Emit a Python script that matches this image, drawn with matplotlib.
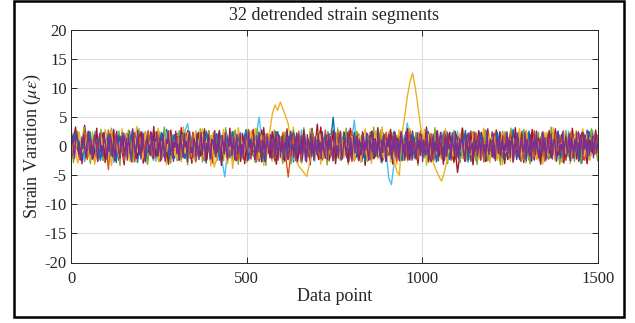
import numpy as np
import matplotlib
matplotlib.use("Agg")
import matplotlib.pyplot as plt
from matplotlib.patches import Rectangle

title = "32 detrended strain segments"
xlabel = "Data point"
ylabel = r"Strain Varation ($\mu\epsilon$)"
xticks = [0, 500, 1000, 1500]
yticks = [-20, -15, -10, -5, 0, 5, 10, 15, 20]

seg_blue_a = [1.2,-0.8,2.1,-1.9,0.4,-2.6,1.7,0.3,-1.1,2.4,-0.6,1.0,-2.2,0.8,-0.3,2.7,-1.5,0.6,-2.0,1.4,
 -0.9,2.2,-1.7,0.1,1.9,-2.8,0.7,-0.4,2.5,-1.3,1.1,-2.4,0.2,1.6,-0.7,-1.8,2.9,-0.5,0.9,-2.1,
 1.5,-1.0,0.3,2.3,-2.5,1.2,-0.2,-1.6,2.0,-0.8,0.5,-2.9,1.8,-0.1,1.3,-1.4,2.6,-2.2,0.6,-0.6,
 2.1,-1.2,0.9,-2.0,1.6,-0.4,2.8,-1.7,0.2,-0.9,1.4,-2.6,0.8,2.2,-1.1,0.5,-2.3,1.9,-0.3,1.0,
 -1.9,2.4,-0.7,0.4,-2.7,1.7,-1.3,2.0,-0.2,0.7,-1.6,3.1,-0.9,0.1,-2.1,1.3,-0.5,2.5,-1.8,0.6,
 -0.4,1.8,-2.4,0.9,1.2,-1.0,2.3,-2.0,0.3,-0.8,1.6,-2.6,2.1,-0.3,0.8,-1.5,2.7,-1.1,0.2,-2.2,
 1.1,-0.6,2.0,-1.4,0.5,-2.5,1.9,-0.1,1.4,-2.1,0.7,-0.9,2.6,-1.7,0.4,-2.8,1.5,-0.4,2.2,-1.0,
 0.6,-1.8,2.5,-0.5,1.0,-2.3,0.3,1.7,-1.2,2.1,-2.7,0.9,-0.2,1.5,-1.9,2.4,-0.8,0.2,-2.0,1.8,
 -1.3,0.8,-2.5,2.2,-0.6,1.1,-1.6,2.9,-0.3,0.5,-2.2,1.6,-1.0,2.0,-2.6,0.7,1.3,-0.7,2.3,-1.5,
 0.4,-2.0,1.9,-0.9,2.6,-1.4,0.1,-2.4,1.2,-0.5,2.0,-1.8,0.9,-2.9,1.7,-0.2,2.5,-1.1,0.6,-1.6]

seg_orange_a = [-0.5,1.6,0.9,-2.3,-1.0,2.4,0.2,-1.7,1.3,2.0,-2.6,-0.4,1.1,-1.5,2.8,0.6,-0.9,-2.1,1.8,0.3,
 2.2,-1.2,-0.3,1.5,-2.7,0.8,1.9,-0.6,-1.8,2.5,0.1,-2.2,1.4,0.7,-1.1,2.1,-2.9,0.4,1.6,-0.8,
 -1.4,2.6,0.5,-2.0,1.0,-0.2,2.3,-1.6,-0.7,1.8,-2.4,0.9,2.7,-1.0,0.3,-2.5,1.2,-0.1,2.0,-1.9,
 0.8,-0.4,2.4,-2.2,1.5,0.2,-1.3,2.9,-0.9,-1.8,1.1,0.6,-2.6,2.2,-0.5,1.7,-1.5,0.0,2.5,-2.0,
 1.3,-0.7,-2.3,1.9,0.4,-1.1,2.6,-2.8,0.7,1.4,-0.3,2.1,-1.7,-0.6,1.0,-2.4,2.8,0.1,-1.2,1.6,
 -2.1,0.5,2.0,-0.8,-1.6,2.7,0.3,-2.5,1.2,-0.2,1.8,-1.3,0.9,2.4,-2.2,-0.5,1.5,-1.9,2.3,0.0,
 -1.0,1.7,-2.7,0.6,2.2,-0.4,-1.5,1.3,2.8,-2.0,0.2,-0.9,2.5,-1.6,1.1,-2.6,0.7,1.9,-0.6,-1.4,
 2.0,-2.3,0.4,1.6,-0.9,2.6,-1.8,0.1,-2.1,1.4,0.8,-0.3,2.3,-2.5,1.0,-1.2,2.9,-0.7,0.5,-1.7,
 1.5,-0.2,-2.4,2.1,0.3,-1.4,1.8,-2.8,0.9,2.4,-1.1,0.6,-1.9,1.2,-0.5,2.7,-2.2,0.2,1.7,-0.8,
 -2.0,1.1,0.4,-1.6,2.5,-0.6,1.3,-2.3,0.8,1.9,-1.0,-0.1,2.2,-2.6,1.4,0.5,-1.3,2.0,-0.4,1.0]

seg_green_a = [0.7,-1.4,1.9,0.2,-2.1,1.1,-0.6,2.3,-1.7,0.4,1.5,-2.4,0.9,-0.3,2.0,-1.2,0.5,-1.9,2.6,-0.7,
 -1.5,0.8,2.2,-2.0,0.1,1.6,-1.0,-0.4,2.4,-2.3,1.2,0.3,-1.6,2.7,-0.9,0.6,-2.2,1.4,-0.2,1.8,
 -2.5,0.9,-0.5,2.1,-1.3,1.0,-1.9,2.5,0.2,-0.8,1.7,-2.6,0.6,1.3,-1.1,2.2,-0.3,-1.7,0.8,1.9,
 -0.6,-2.0,2.8,-1.2,0.4,1.1,-2.4,1.6,-0.1,0.7,-1.5,2.3,-2.1,0.5,1.8,-0.9,0.2,-2.7,1.3,-0.4,
 2.0,-1.1,0.6,-1.8,2.4,-0.2,1.0,-2.3,1.5,-0.7,0.3,2.6,-1.4,-0.5,1.7,-2.0,0.9,-1.0,2.1,-2.5,
 0.4,1.2,-1.6,2.5,-0.8,0.1,-2.2,1.9,-0.3,1.4,-1.2,0.7,-2.6,2.0,-0.6,1.1,-1.9,2.8,-1.3,0.2,
 -0.9,1.6,-2.1,0.5,2.3,-1.5,0.8,-0.1,-2.4,1.3,0.6,-1.7,2.2,-0.5,1.0,-2.8,1.8,-0.2,0.9,-1.4,
 2.4,-0.7,-1.9,1.1,0.3,-2.3,1.7,-0.8,2.6,-1.2,0.0,1.5,-2.0,0.7,-0.4,2.1,-1.6,1.2,-2.5,0.6,
 -0.3,1.9,-1.1,0.4,2.5,-2.2,0.8,-0.6,1.4,-1.8,2.3,-0.9,0.2,-2.4,1.6,-0.1,2.0,-1.3,0.5,-2.0,
 1.3,-0.5,2.2,-1.7,0.9,-2.6,1.5,0.1,-1.0,2.4,-0.8,0.6,-2.1,1.8,-0.4,1.1,-1.5,2.7,-1.2,0.3]

seg_lightblue = [-1.8,0.6,2.3,-0.9,1.2,-2.5,0.3,1.7,-1.3,2.6,-0.4,-2.0,1.0,0.5,-1.6,2.2,-2.8,0.8,1.4,-0.7,
 2.0,-1.1,0.2,-2.3,1.8,0.9,-0.5,2.5,-1.9,0.4,-1.2,2.1,-2.6,1.3,0.0,-0.8,2.4,-1.5,0.7,1.6,
 -2.2,1.1,-0.3,2.7,3.9,0.6,-2.0,1.5,0.2,-1.7,2.3,-0.6,1.0,-2.4,0.8,2.0,-1.0,-2.6,-5.3,-1.2,
 1.9,-0.2,1.2,-1.6,2.4,-0.9,0.5,-2.1,1.7,-0.4,2.2,5.0,0.9,-2.5,1.4,0.1,-1.8,2.6,-0.7,1.0,
 -1.4,2.1,-0.6,0.8,-2.3,1.6,-1.0,2.8,-0.2,-1.9,1.3,0.4,-2.6,2.0,-0.5,1.1,-1.7,2.5,0.2,-1.2,
 1.8,-2.1,0.7,-0.3,2.3,-1.5,1.2,4.5,-0.8,0.5,-2.4,1.7,-1.1,2.2,0.0,-1.8,1.4,-2.8,0.9,-0.6,
 -5.5,-6.6,-3.0,1.5,-0.9,2.1,0.6,4.0,1.2,-1.3,-2.2,0.8,1.9,-0.7,2.4,-1.6,0.3,-2.5,1.1,-0.2,
 2.2,-1.0,0.5,-2.3,1.7,-0.6,2.6,-1.9,0.8,1.3,-2.7,0.2,-0.8,2.0,-1.4,1.0,-2.1,2.5,-0.4,0.7,
 -1.7,1.9,-0.3,2.3,-2.4,0.6,1.4,-1.2,2.7,-0.9,0.1,-2.0,1.6,-0.5,2.1,-1.8,0.9,-2.6,1.2,0.3,
 -1.1,2.4,-0.7,1.0,-2.2,1.8,-0.1,-1.5,2.6,-2.5,0.6,1.3,-0.8,2.0,-1.9,0.4,-2.3,1.7,-0.6,0.9]

seg_darkred_a = [0.9,-1.6,2.0,-0.4,-2.2,3.6,0.3,-1.0,1.5,-2.6,0.7,2.3,-1.3,0.1,-1.9,2.5,-0.6,1.1,-2.4,1.8,
 -0.8,0.4,2.6,-2.0,1.3,-1.2,0.6,2.1,-2.7,0.9,-0.2,1.7,-1.5,2.4,-0.9,0.2,-2.3,1.5,0.8,-1.4,
 2.2,-0.5,-1.8,1.0,2.7,-2.1,0.3,-0.7,1.9,-1.6,2.4,-2.5,0.5,1.2,-1.0,2.0,-0.3,-2.2,1.6,0.1,
 -1.3,2.5,-0.8,0.7,-2.6,1.4,0.2,-1.9,2.2,-0.4,1.1,-2.0,2.8,-1.1,0.4,-0.6,1.8,-2.4,0.9,-0.1,
 1.6,-2.2,0.6,2.3,-1.4,-0.3,1.9,-2.8,1.0,0.4,-1.2,2.1,-0.5,3.8,-1.7,0.8,-2.1,1.3,-0.7,2.6,
 -1.9,0.3,1.5,-0.9,2.0,-2.5,0.8,-0.2,2.4,-1.5,1.1,-2.3,0.5,1.8,-0.6,-1.8,2.2,-1.0,0.2,-2.6,
 1.4,-0.4,2.3,-1.7,0.6,1.2,-2.4,0.9,-0.1,2.6,-2.0,1.5,-0.8,0.4,-1.6,2.1,-2.7,0.7,1.7,-1.2,
 0.5,2.4,-1.0,-2.2,1.3,0.2,-4.5,-1.1,1.8,-0.5,2.2,-2.1,0.8,-1.3,2.7,-0.7,0.1,-2.5,1.6,-0.3,
 1.0,-1.8,2.5,-0.6,0.4,-2.3,1.9,-1.2,0.7,2.0,-2.6,0.3,1.4,-0.9,2.3,-1.6,0.6,-2.0,1.2,-0.4,
 2.1,-1.4,0.3,-2.4,1.7,-0.2,2.6,-1.9,0.8,-0.7,1.5,-2.2,0.5,2.4,-1.1,0.0,-1.7,2.0,-0.5,1.3]

seg_purple_a = [0.8,-1.5,2.1,-0.4,1.3,-2.2,0.5,1.9,-1.1,-0.2,2.4,-1.8,0.7,-2.5,1.6,0.1,-0.9,2.2,-1.4,0.4,
 -2.0,1.1,0.3,-1.2,2.6,-0.6,1.4,-2.3,0.9,-0.1,1.8,-1.6,2.0,-0.7,-2.1,1.2,0.6,-1.3,2.3,-0.5,
 1.0,-2.4,1.7,0.2,-0.8,2.5,-1.9,0.4,1.5,-1.0,-2.2,2.0,-0.3,0.9,-1.7,2.7,-0.6,1.1,-2.6,0.5,
 1.9,-1.1,-0.2,2.2,-2.0,0.8,-0.5,1.6,-1.4,2.4,0.1,-2.3,1.3,-0.9,0.6,-1.8,2.1,-0.4,1.0,-2.5,
 0.3,2.3,-1.3,0.7,-0.1,-2.1,1.8,-0.7,2.6,-1.5,0.4,1.2,-2.4,0.9,-0.3,2.0,-1.9,0.6,1.4,-1.0,
 -0.6,1.7,-2.2,2.4,-0.8,0.2,-1.6,1.1,2.2,-2.6,0.5,-0.4,1.9,-1.2,0.8,-2.0,2.5,-0.2,0.3,-1.7,
 2.1,-0.9,1.0,-2.3,0.6,1.6,-1.4,-0.3,2.3,-1.9,0.9,-0.6,1.4,-2.5,2.0,-0.1,-1.1,1.7,-2.2,0.7,
 -0.4,2.6,-1.7,0.3,1.2,-0.9,-2.4,1.9,-0.2,0.8,-1.5,2.2,-2.0,0.5,1.5,-1.2,0.1,2.4,-2.3,1.0,
 -0.7,1.3,-1.9,2.1,0.4,-2.6,1.1,-0.5,1.8,-1.3,0.7,2.5,-2.1,-0.2,1.6,-0.8,0.9,-2.4,2.0,-1.0,
 0.6,-0.3,2.3,-1.6,1.0,-2.2,0.2,1.7,-1.1,-0.6,2.4,-2.5,0.8,1.3,-1.4,0.3,-2.0,2.2,-0.7,1.5,
 -1.8,0.9,-0.1,2.0,-2.3,1.4,0.5,-1.0,2.6,-1.7,0.0,1.1,-2.4,1.8,-0.5,0.7,-1.5,2.3,-1.2,0.2,
 1.6,-2.1,0.4,-0.8,2.1,-1.3,1.2,-2.6,0.6,1.9,-0.4,-1.9,2.4,-0.9,0.3,-2.2,1.5,0.8,-1.6,2.5,
 -0.2,-2.0,1.3,0.5,-1.2,2.2,-2.5,0.9,-0.6,1.7,-1.4,2.0,0.1,-2.3,1.0,-0.3,2.6,-1.8,0.4,-1.1,
 1.8,-0.7,0.2,-2.4,2.3,-1.0,0.7,1.4,-1.9,-0.1,2.1,-2.2,0.6,-0.5,1.6,-1.6,2.4,-0.9,0.3,-2.6,
 1.2,0.4,-1.3,2.0,-0.6,-2.1,1.5,-0.2,2.5,-1.5,0.8,-2.3,1.9,-0.4,1.1,-1.7,2.2,-1.0,0.5,-0.8]

seg_yellow_b = [2.8,1.1,-0.6,-2.9,-1.4,0.9,3.2,0.4,-1.8,-0.2,2.5,-3.1,-1.0,1.6,0.3,-2.2,2.9,1.4,-0.8,-3.3,
 0.7,2.1,-1.5,-0.4,3.0,-2.6,0.2,1.8,-1.1,-2.8,0.5,3.4,1.0,-1.9,-0.7,2.3,-3.0,0.6,1.5,-2.4,
 -0.3,3.1,0.8,-2.1,1.3,-3.2,-0.9,2.6,0.1,-1.6,2.0,-0.5,-2.7,3.3,0.4,-1.2,1.9,-2.9,0.9,2.7,
 -1.7,-0.2,3.0,-2.5,1.2,0.5,-3.4,2.2,-0.8,1.7,-2.0,0.3,2.9,-1.4,-3.0,1.0,2.4,-0.6,-2.3,3.2,
 0.8,-1.9,1.4,-2.8,2.6,-0.4,-1.2,3.1,-2.2,0.6,1.9,-3.3,0.2,2.2,-1.0,-2.6,2.8,0.9,-1.5,0.4,
 -3.0,2.5,1.1,-0.7,-2.4,3.3,-1.3,0.5,2.0,-2.9,0.0,1.6,-1.8,3.0,-0.5,-2.2,1.3,2.7,-3.1,0.7,
 1.8,-1.1,-2.6,2.9,0.3,-1.6,3.2,-2.4,0.8,-0.3,2.3,-3.2,1.1,0.6,-2.0,2.6,-0.9,-2.8,1.5,3.0,
 -1.4,0.4,-3.0,2.1,1.0,-2.2,0.2,3.3,-1.7,-0.6,2.5,-2.7,1.3,-0.1,-3.1,2.8,0.5,-1.3,1.9,-2.5,
 3.1,-0.8,0.9,-2.3,2.4,-1.5,-0.2,2.9,-3.3,1.2,0.6,-1.9,2.6,-2.6,0.1,1.7,-1.0,3.0,-2.1,-0.4,
 1.4,-2.9,2.2,0.7,-1.6,3.2,-0.6,-2.5,1.8,0.3,-3.0,2.5,-1.2,1.0,-2.3,3.1,-0.3,0.8,-2.8,1.6,
 -0.9,2.7,-2.0,0.5,-3.2,1.9,1.2,-1.4,2.8,-2.6,0.2,-0.7,3.0,-1.8,1.1,-2.9,2.3,0.4,-1.1,-2.4,
 2.6,-0.5,1.5,-3.1,0.9,2.4,-1.7,-0.2,3.2,-2.2,0.6,1.3,-2.8,2.0,-1.0,0.1,-3.0,2.9,-0.6,1.7,
 -2.1,0.8,3.0,-1.3,-2.7,1.4,0.3,-0.9,2.5,-1.8]

seg_darkred_b = [-2.4,1.2,3.3,-0.7,0.5,-3.0,1.9,-1.4,2.6,0.2,-2.2,-0.8,3.1,-1.9,0.9,2.3,-2.8,-0.3,1.6,-1.1,
 2.9,-2.5,0.4,1.5,-0.9,-3.2,2.1,0.7,-1.6,3.0,-0.4,-2.1,1.3,2.5,-2.9,0.0,1.8,-1.3,-0.6,3.4,
 -1.8,0.6,-2.6,2.2,1.0,-0.5,-3.1,2.8,-1.2,0.3,1.7,-2.4,3.2,-0.8,-1.5,2.0,0.5,-2.9,1.1,-0.2,
 2.4,-1.7,-0.6,3.0,-2.3,1.4,0.2,-2.8,1.9,-1.0,2.7,-3.3,0.8,0.1,-1.9,3.1,-0.7,1.2,-2.5,0.6,
 -0.4,2.2,-3.0,1.6,0.9,-1.4,2.9,-2.2,-0.1,1.3,-2.7,3.2,-1.1,0.4,-2.0,2.5,1.0,-3.1,0.7,-0.9,
 1.8,-2.6,3.0,-0.3,-1.6,2.3,0.6,-2.9,1.5,-0.8,2.8,-1.9,0.2,-3.2,2.0,1.1,-0.6,-2.3,3.3,-1.2,
 0.3,1.9,-2.4,-0.5,2.7,-3.0,1.2,0.8,-1.7,2.4,-0.2,-2.8,3.1,-1.3,0.5,1.6,-2.5,-0.4,2.2,-3.3,
 1.0,-0.7,2.6,-2.0,0.4,3.2,-1.5,-2.6,1.7,0.1,-1.0,2.9,-3.0,0.9,1.4,-2.2,2.5,-0.6,-1.8,3.0,
 -2.3,0.7,1.6,-1.2,-2.9,2.1,0.3,-0.9,3.3,-2.5,1.1,-0.3,-2.0,2.7,-1.6,0.6,-3.1,1.9,0.0,2.4,
 -1.4,-2.7,2.0,0.8,-0.5,3.1,-2.2,1.3,-1.1,2.6,-3.2,0.4,1.7,-1.8,2.3,-0.2,-2.6,3.0,-0.8,1.0,
 -2.1,2.8,0.5,-1.5,1.2,-3.0,2.2,-0.6,0.9,-2.4,3.2,-1.0,-0.4,2.0,-2.8,1.5,0.2,-1.7,2.9,-2.3,
 0.6,1.4,-3.1,2.5,-0.7,-1.3,2.7,-2.0,0.1,3.0,-1.6,-0.5,2.1,-2.9,1.0,0.4,-2.2,3.1,-1.1,0.8,
 -2.6,1.7,2.4,-0.9,-3.0,1.1,0.3,-1.5,2.8,-0.4]

seg_green_b = [1.5,-2.8,0.3,2.6,-1.0,-0.4,3.2,-2.1,1.1,-3.0,0.7,2.2,-1.6,0.0,2.9,-2.5,-0.8,1.8,-1.3,3.1,
 -2.2,0.9,1.4,-3.3,2.4,-0.5,-1.7,2.8,0.4,-2.6,1.2,-0.9,3.0,-1.9,0.6,2.1,-3.1,-0.2,1.7,-1.2,
 2.5,-0.6,-2.4,1.0,3.3,-1.5,0.2,-2.9,2.0,0.8,-1.1,2.7,-2.3,-0.3,1.6,-3.2,2.3,0.5,-1.8,1.3,
 -0.7,3.0,-2.7,0.9,-1.4,2.4,1.1,-3.0,0.1,2.0,-1.9,0.6,-2.5,3.2,-0.8,1.5,-2.1,2.6,-0.1,-3.1,
 1.9,0.3,-1.6,2.9,-2.4,1.2,-0.5,-2.8,3.1,-1.0,0.7,2.3,-3.3,1.4,-0.2,-1.9,2.7,-2.2,0.8,1.6,
 -2.9,2.1,-0.4,1.0,-3.0,2.8,0.2,-1.3,1.8,-2.6,3.2,-0.9,-1.7,2.4,0.5,-2.3,1.1,-0.6,3.0,-2.0,
 0.9,-3.2,2.2,1.4,-1.0,-2.5,2.9,-0.3,0.6,-1.8,3.1,-2.7,1.3,0.1,-2.2,2.5,-1.5,-0.7,2.0,-3.0,
 1.7,0.4,-2.1,3.3,-1.2,-0.5,2.3,-2.9,1.0,0.7,-1.6,2.7,-3.1,0.3,1.9,-1.1,2.6,-2.4,-0.2,3.0,
 -1.9,1.2,-0.8,2.4,-3.3,1.6,0.5,-2.0,2.9,-1.4,0.0,-2.6,3.2,-0.6,1.3,-2.2,0.8,2.1,-3.0,1.0,
 -0.3,2.7,-1.7,0.6,-2.8,3.0,-1.1,1.5,-2.3,0.2,2.5,-0.9,-3.1,1.8,0.9,-1.5,2.8,-2.5,0.4,-0.1,
 2.3,-2.0,1.1,-3.2,2.6,-0.4,0.8,-1.6,3.1,-2.7,0.5,1.7,-1.2,-2.4,2.9,-0.7,1.0,-3.0,2.2,0.3,
 -1.5,2.4,-2.8,0.6,1.9,-0.9,-2.2,3.3,-1.3,0.4,2.0,-3.1,1.2,-0.5,2.7,-1.8,-0.1,2.5,-2.6,1.4,
 0.7,-3.0,2.1,-0.8,1.6,-2.3,3.0,-1.0,0.2,-2.5]

seg_blue_b = [-1.2,2.2,-0.3,0.9,-2.0,1.6,-0.8,2.5,-1.5,0.2,1.3,-2.4,0.7,-0.5,2.0,-1.7,1.0,-2.8,1.8,0.4,
 -0.9,1.4,-2.2,2.6,-0.1,0.8,-1.6,2.1,-2.5,0.5,1.7,-1.0,0.3,-2.3,2.4,-0.6,1.2,-1.9,0.6,2.0,
 -1.4,0.1,2.3,-2.1,1.1,-0.4,1.9,-2.7,0.7,1.5,-1.1,2.6,-0.2,-1.8,0.9,2.1,-2.4,0.4,-0.7,1.6,
 -2.0,2.4,-0.5,1.2,-1.5,0.3,2.7,-2.2,1.0,-0.9,1.8,-1.3,0.6,-2.6,2.0,-0.3,1.4,-1.7,2.5,-0.8,
 0.2,-2.1,1.7,-0.4,2.2,-1.2,0.8,-2.5,1.3,0.5,-1.6,2.9,-0.9,1.1,-2.0,0.4,1.9,-1.4,0.7,5.0,
 -0.6,1.5,-2.3,2.1,-1.0,0.9,-0.2,2.4,-1.8,0.3,1.6,-2.6,1.0,-0.7,2.3,-1.3,0.5,-2.1,1.8,-0.4,
 1.2,-1.9,2.6,-0.5,0.7,-2.4,1.4,0.1,-1.2,2.2,-2.0,0.6,1.7,-0.8,-1.6,2.5,-0.1,1.0,-2.7,0.8,
 1.9,-1.1,0.4,-2.2,2.3,-0.6,1.2,-1.7,0.2,2.7,-2.4,0.9,-0.3,1.5,-1.4,2.0,-2.6,0.5,1.3,-0.9,
 -1.5,2.4,-0.2,0.8,-2.1,1.6,-1.0,2.2,-0.4,-1.9,1.1,0.3,-2.5,2.6,-0.7,1.3,-1.2,0.6,2.1,-2.3,
 0.7,-0.5,1.8,-1.6,2.5,-2.0,0.4,1.1,-0.9,2.2,-1.3,0.2,-2.4,1.7,-0.6,2.8,-1.5,0.9,-0.2,1.4]

seg_orange_b = [2.1,-0.7,1.2,-1.9,0.3,2.6,-2.3,0.8,-0.4,1.7,-1.2,2.3,-0.1,0.9,-4.0,1.4,-0.6,2.2,-1.8,0.5,
 -2.5,1.0,0.4,-1.3,2.4,-0.8,1.6,-2.1,0.2,2.7,-1.6,0.6,-0.3,1.9,-2.4,1.1,-0.9,2.5,-1.4,0.0,
 1.5,-2.2,2.0,-0.5,0.8,-1.7,2.3,-2.6,1.2,-0.2,1.8,-1.1,0.5,-2.0,2.6,-0.7,0.3,-1.5,2.1,-2.4,
 0.9,1.6,-1.0,-2.3,1.4,0.2,-0.8,2.5,-1.9,0.7,-2.7,1.3,0.4,-1.2,2.2,-0.5,1.0,-2.1,1.7,-0.3,
 2.4,-1.6,-5.3,-1.0,1.8,-0.6,2.2,-2.4,0.6,1.1,-1.3,2.7,-0.2,0.4,-2.2,1.5,-0.9,2.0,-1.7,0.8,
 -0.4,2.3,-2.0,1.0,-1.1,0.3,2.6,-2.5,1.3,-0.6,1.9,-1.4,0.7,-2.3,2.1,0.1,-1.8,1.2,-0.7,2.4,
 -1.5,0.5,2.0,-2.6,1.6,-0.3,0.9,-1.9,2.5,-1.0,0.2,-2.2,1.8,-0.8,1.3,-0.1,2.2,-2.4,0.6,1.0,
 -1.8,2.6,-0.5,0.8,-2.1,1.5,-1.2,2.0,-0.2,-2.5,1.7,0.4,-1.0,2.3,-1.6,0.7,-2.7,1.4,0.2,-0.9,
 2.2,-1.3,0.6,-2.0,1.9,-0.4,2.4,-1.7,0.9,-0.7,1.2,-2.3,2.7,-1.1,0.3,-1.9,1.6,-0.5,2.0,-2.6,
 0.4,1.3,-1.5,2.1,-0.8,0.6,-2.2,1.8,-0.3,2.5,-1.9,0.8,-0.6,1.5,-2.4,2.2,-1.0,0.1,-1.4,1.9]

seg_yellow = [1.3,-2.0,0.5,2.4,-1.1,-0.3,1.8,-2.5,0.9,0.2,-1.6,2.2,-0.7,1.1,-2.3,2.7,-0.4,0.6,-1.8,1.5,
 -0.2,2.1,-2.6,0.8,1.4,-1.0,0.3,-2.2,2.5,-0.6,1.0,-1.5,2.0,-2.7,0.4,1.7,-0.9,2.3,-1.3,0.1,
 -2.1,1.6,0.7,-1.2,2.4,-0.5,-2.4,1.3,0.2,2.6,-1.7,0.8,-0.3,1.9,-3.6,-2.0,1.2,-0.8,2.2,-1.4,
 0.6,-3.8,1.5,-0.1,2.0,-2.3,0.9,-1.0,2.7,-0.6,1.4,-2.1,0.3,1.8,-1.5,2.5,5.6,7.1,6.2,7.6,
 6.4,5.2,3.8,0.8,-1.2,-2.5,-3.4,-4.0,-4.6,-5.2,-3.0,-1.0,1.5,-0.4,2.1,-1.8,0.6,-2.4,1.9,-0.2,
 1.2,-0.7,2.4,-1.9,0.5,-0.2,1.7,-2.6,0.9,2.1,-1.3,0.3,-2.2,1.5,-0.5,2.6,-1.6,0.4,-2.0,1.1,
 -0.9,0.6,-2.4,-4.2,-5.0,2.0,5.0,8.5,11.0,12.6,10.2,7.0,3.5,1.0,-0.8,2.0,-1.5,-3.0,-4.2,-5.2,
 -6.0,-4.5,-2.5,0.4,-1.6,1.8,-0.5,2.3,-2.1,0.7,1.2,-1.4,2.5,-0.3,-2.2,1.0,0.2,-1.7,2.1,-0.9,
 1.6,-2.4,0.5,2.2,-1.1,0.0,-2.6,1.4,-0.6,2.0,-1.8,0.9,2.6,-1.2,-0.4,1.7,-2.3,0.8,-0.1,2.3,
 -1.5,0.4,1.9,-2.5,1.0,-0.7,2.4,-1.3,0.2,-2.0,1.3,2.7,-0.9,0.5,-1.7,2.1,-2.4,0.6,1.5,-0.6]

seg_purple = [0.4,1.8,-0.7,-2.1,0.9,2.3,1.1,-1.5,-0.3,-2.4,1.6,0.2,2.0,-1.2,-1.9,0.7,2.5,-0.5,-1.4,1.0,
 -2.2,0.3,1.9,1.2,-0.8,-2.6,0.6,2.2,-1.0,0.1,-1.7,2.4,0.8,-0.4,-2.3,1.5,-0.9,2.1,0.5,-1.8,
 1.3,-2.5,-0.2,2.6,0.9,-1.1,-2.0,1.7,0.0,2.3,-1.6,-0.6,1.4,-2.4,2.0,0.4,-1.3,-2.7,1.1,2.2,
 -0.5,-1.9,0.8,2.7,-1.4,0.3,-2.2,1.6,2.1,-0.7,-2.5,0.6,1.8,-1.0,0.2,-1.6,2.4,-0.3,-2.1,1.2,
 0.9,2.5,-1.7,-0.4,1.5,-2.3,0.1,2.0,-1.2,-2.6,1.0,0.5,2.3,-0.9,-1.5,1.9,-2.0,0.7,-0.2,2.6,
 -1.3,0.4,-2.4,1.7,1.1,-0.6,-1.9,2.2,-0.1,0.8,-2.7,1.4,2.5,-1.1,-0.3,-2.0,1.3,0.6,-1.6,2.1,
 -0.8,-2.3,1.0,2.4,-1.5,0.2,1.7,-2.5,0.5,-0.9,2.0,-1.4,-2.2,1.2,0.9,-0.5,2.7,-1.8,0.3,-1.1,
 1.6,-0.2,-2.6,1.9,0.6,-1.3,2.3,-0.7,-2.0,1.1,0.0,2.5,-1.6,-0.4,1.4,-2.4,0.8,2.0,-1.2,-0.6,
 2.2,-1.7,0.3,-2.2,1.8,0.7,-0.9,-2.5,2.6,-0.3,1.2,-1.5,0.4,2.1,-2.3,-0.8,1.5,-1.0,2.4,0.1,
 -1.9,1.0,-0.5,2.3,-2.6,0.8,1.6,-1.2,-0.1,2.0,-2.1,0.5,1.3,-1.7,2.5,-0.6,-2.4,1.9,0.2,-1.0,
 1.7,-2.3,0.6,-0.4,2.2,-1.4,-2.0,1.1,2.6,-0.8,0.3,-1.9,1.5,-2.5,0.9,2.1,-0.2,-1.3,1.8,-2.2,
 0.0,2.4,-1.1,-2.7,1.3,0.5,-0.7,2.0,-1.8,1.0,-2.4,1.6,0.2,-1.5,2.3,-0.9,0.7,-2.1,2.5,-0.3,
 -1.6,1.2,0.4,-2.3,2.1,-0.6,1.7,-1.0,-2.5,0.9,2.4,-1.3,0.1,-1.9,1.4,2.6,-0.8,-2.2,0.6,1.1,
 -0.4,-2.0,2.2,0.8,-1.6,1.5,-2.6,0.3,2.0,-1.1,-0.2,1.8,-2.3,1.0,0.5,-1.4,2.5,-1.9,0.7,-0.7,
 2.3,-1.2,-2.4,1.6,0.2,-0.9,2.1,-2.1,1.3,0.6,-1.7,2.7,-0.5,-2.0,1.0,-1.1,1.9,0.4,-2.6,1.4,
 -0.1,2.0,-1.5,0.9,-2.2,1.7,-0.6,2.4,-1.9,-0.3,1.2,-2.5,0.7,2.2,-1.0,0.3,-1.8,1.5,2.5,-2.3,
 0.8,-0.7,1.9,-2.4,0.5,1.4,-1.3,-2.1,2.3,-0.4,0.9,-1.6,2.0,-2.6,1.1,0.0,-1.2,2.6,-0.9,-1.8,
 1.5,0.3,-2.3,2.1,-1.1,0.6,-0.8,1.8,-2.5,1.2,2.4,-1.4,-0.2,-2.0,1.6,0.9,-1.7,2.2,-0.5,0.4,
 -2.4,1.7,0.1,-1.0,2.5,-1.9,0.7,-2.2,1.3,-0.3,2.0,0.5,-1.5,-2.6,1.9,-0.6,1.0,2.3,-1.2,-0.4,
 0.6,-2.1,2.4,-0.8,1.1,-1.7,-0.1,2.2,-2.4,0.8,1.5,-1.1,0.3,-2.3,2.6,-0.5,-1.4,1.2,0.2,-1.9,
 2.1,-0.9,-2.5,1.4,0.7,-1.2,2.3,-1.6,0.0,1.8,-2.2,0.4,-0.7,2.5,-1.3,1.0,-2.0,0.6,1.7,-2.6,
 -0.2,1.3,-1.8,2.2,0.9,-2.3,0.5,1.6,-1.0,-0.5,2.4,-2.1,1.2,0.1,-1.5,2.0,-2.5,0.8,-0.3,1.9,
 -1.4,2.6,-0.6,-2.0,1.1,0.4,-1.7,2.3,-0.8,1.5,-2.4,0.2,1.9,-1.2,-0.4,2.1,-2.2,0.7,1.3,-0.9,
 -2.6,1.0,2.0,-1.5,0.3,-0.7,2.5,-2.1,0.8,1.6,-1.3,-0.1,2.2,-2.5,1.4,0.5,-1.9,1.1,-0.6,2.4,
 -1.0,0.6,-2.3,1.8,0.1,-1.4,2.1,-0.5,1.2,-2.2,2.6,-1.6,0.4,-0.9,1.7,-2.0,0.9,2.3,-1.1,0.3]

segments = [seg_blue_a, seg_orange_a, seg_green_a, seg_lightblue, seg_darkred_a, seg_purple_a,
            seg_yellow_b, seg_green_b, seg_darkred_b, seg_blue_b, seg_orange_b, seg_yellow, seg_purple]
colors = ["#0072BD", "#D95319", "#77AC30", "#4DBEEE", "#A2142F", "#7E2F8E",
          "#EDB120", "#77AC30", "#A2142F", "#0072BD", "#D95319", "#EDB120", "#7E2F8E"]

plt.rcParams['font.family'] = ['Liberation Serif', 'DejaVu Serif']
plt.rcParams['mathtext.fontset'] = 'stix'
plt.rcParams['axes.unicode_minus'] = False

fig = plt.figure(figsize=(6.35, 3.23), dpi=100)
ax = fig.add_axes([71/635, 1 - 262.5/323, (597.7-71)/635, (262.5-30)/323])

for vals, c in zip(segments, colors):
    x = np.linspace(1, 1500, len(vals))
    ax.plot(x, vals, color=c, lw=1.0)

ax.set_xlim(0, 1500)
ax.set_ylim(-20, 20)
ax.set_xticks(xticks)
ax.set_yticks(yticks)
ax.grid(True, color='#dcdcdc', lw=0.7)
ax.set_axisbelow(True)
ax.tick_params(direction='in', top=True, right=True, length=4, width=0.7,
               colors='#262626', labelsize=12)
ax.tick_params(axis='y', pad=3)
ax.tick_params(axis='x', pad=6)
for s in ax.spines.values():
    s.set_color('#262626')
    s.set_linewidth(0.7)
ax.set_title(title, fontsize=13, color='#262626', pad=7)
ax.set_xlabel(xlabel, fontsize=13, color='#262626', labelpad=1)
ax.set_ylabel(ylabel, fontsize=13, color='#262626', labelpad=1)

fig.patches.append(Rectangle((14.2/635, 1 - 317/323), (623.7-14.2)/635, (317-1.2)/323,
                             transform=fig.transFigure, fill=False, ec='black', lw=1.8))

fig.savefig("out.png", dpi=100)
